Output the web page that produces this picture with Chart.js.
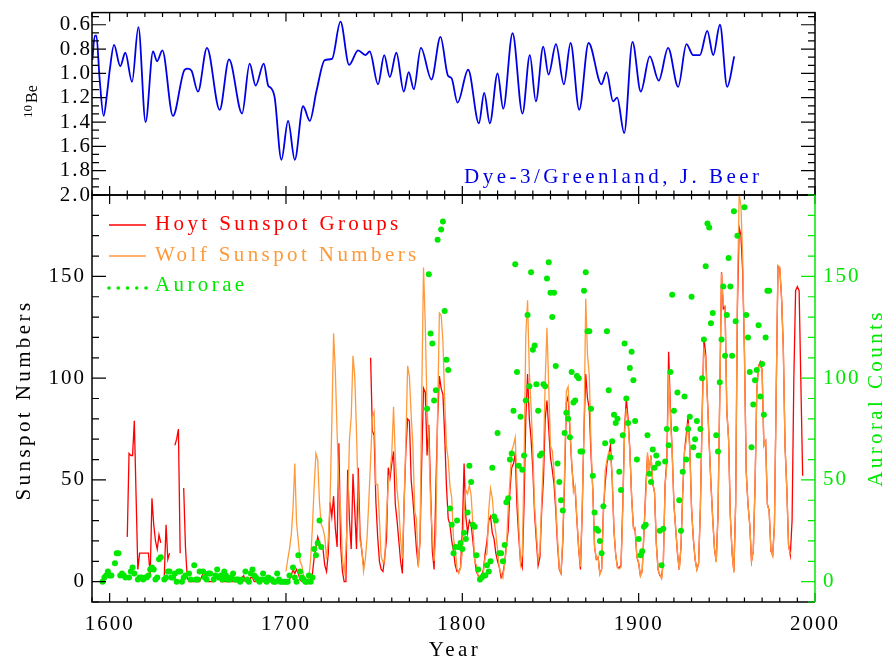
<!DOCTYPE html>
<html>
<head>
<meta charset="utf-8">
<script src="https://cdn.jsdelivr.net/npm/chart.js@4.4.1/dist/chart.umd.min.js"></script>
<style>
  html, body { margin: 0; padding: 0; background: #fff; }
  #wrap { position: relative; width: 884px; height: 662px; }
  canvas { position: absolute; left: 0; top: 0; }
</style>
</head>
<body>
<div id="wrap">
  <canvas id="beChart" width="884" height="662"></canvas>
  <canvas id="sunChart" width="884" height="662"></canvas>
</div>
<script>
// axis ticks
const yearTicks = [1600, 1700, 1800, 1900, 2000];
const beTicks = [0.6, 0.8, 1.0, 1.2, 1.4, 1.6, 1.8, 2.0];
const sunspotTicks = [0, 50, 100, 150];
const auroraTicks = [0, 50, 100, 150];

// 10Be, Dye-3 (year, value)
const beYears = [1590.2, 1591.6, 1592.5, 1594.3, 1596.6, 1598.5, 1600.0, 1602.5, 1606.0, 1608.9,
  1612.7, 1616.3, 1620.4, 1624.6, 1626.9, 1629.9, 1635.9, 1642.5, 1644.5, 1646.5,
  1650.1, 1655.2, 1662.4, 1667.7, 1675.1, 1679.4, 1682.8, 1687.4, 1689.9, 1691.5,
  1693.6, 1697.4, 1701.2, 1705.0, 1709.7, 1713.5, 1717.3, 1722.0, 1726.1, 1730.9,
  1735.8, 1740.9, 1745.0, 1747.5, 1752.2, 1755.7, 1758.9, 1762.6, 1766.8, 1769.6,
  1772.5, 1776.5, 1782.5, 1787.6, 1791.9, 1793.9, 1797.3, 1803.3, 1809.4, 1812.4,
  1815.6, 1820.0, 1823.2, 1828.5, 1834.1, 1838.3, 1841.7, 1845.9, 1848.9, 1853.1,
  1857.6, 1861.4, 1866.3, 1871.6, 1878.9, 1881.8, 1885.5, 1887.8, 1891.8, 1896.5,
  1901.2, 1906.3, 1911.4, 1916.7, 1922.4, 1927.1, 1930.9, 1934.7, 1938.9, 1942.3,
  1946.1, 1950.2, 1954.2];
const beValues = [0.89, 0.69, 0.69, 1.04, 1.35, 1.17, 0.98, 0.765, 0.94, 0.83,
  1.07, 0.62, 1.40, 0.82, 0.90, 0.81, 1.35, 0.97, 0.96, 0.98,
  1.15, 0.79, 1.30, 0.885, 1.33, 0.92, 1.10, 0.92, 1.10, 1.12,
  1.20, 1.71, 1.39, 1.71, 1.27, 1.39, 1.145, 0.89, 0.88, 0.575,
  0.93, 0.81, 0.85, 0.82, 1.09, 0.85, 1.03, 0.83, 1.15, 0.99,
  1.13, 0.79, 1.05, 0.70, 1.02, 1.04, 1.24, 0.97, 1.41, 1.16,
  1.41, 1.00, 1.29, 0.67, 1.33, 0.85, 1.23, 0.78, 1.01, 0.76,
  1.09, 0.75, 1.30, 0.75, 1.09, 0.99, 1.23, 1.20, 1.49, 0.74,
  1.15, 0.86, 1.06, 0.79, 1.11, 0.76, 0.85, 0.85, 0.65, 0.85,
  0.60, 1.11, 0.86];

// Hoyt group sunspot numbers, yearly from 1610 (null = no data)
const hoytStart = 1610;
const hoytValues = [
  22, 63, 62, 62, 79, 42, 6, 14, 14, 14,
  14, 14, 14, 3, 41, 28, 20, 16, 23, 19,
  null, 3, 28, 11, 14, null, null, 67, 70, 75,
  14, null, 46, 17, 2, 0, 0, 0, 0, 0,
  0, 0, 2, 4, 4, 1, 0, 0, 0, 0,
  2, 3, 3, 0, 0, 0, 0, 0, 0, 0,
  0, 0, 0, 0, 0, 2, 3, 0, 0, 0,
  2, 2, 0, 0, 0, 0, 0, 0, 0, 0,
  0, 0, 0, 0, 0, 0, 0, 0, 0, 0,
  0, 0, 1, 3, 6, 4, 6, 4, 1, 0,
  0, 0, 0, 0, 1, 4, 12, 17, 22, 19,
  17, 16, 8, 5, 14, 39, 32, 42, 26, 17,
  68, 18, 5, 0, 0, 55, 30, 16, 53, 35,
  16, 56, 23, 15, 8, null, null, null, 110, 74,
  72, 39, 22, 10, 6, 5, 12, 21, 56, 51,
  58, 64, 38, 30, 20, 10, 4, 39, 65, 80,
  79, 50, 40, 28, 16, 8, 20, 60, 95, 93,
  62, 77, 45, 15, 6, 46, 80, 101, 95, 92,
  72, 47, 31, 28, 20, 15, 8, 5, 5, 7,
  25, 58, 32, 24, 30, 28, 20, 11, 5, 3,
  1, 3, 6, 14, 20, 30, 32, 24, 21, 14,
  10, 7, 2, 4, 9, 18, 25, 45, 56, 58,
  63, 37, 22, 10, 7, 38, 80, 102, 80, 70,
  55, 33, 20, 8, 12, 35, 50, 80, 89, 75,
  61, 55, 48, 35, 18, 6, 4, 20, 50, 88,
  91, 75, 58, 47, 45, 30, 16, 6, 35, 75,
  102, 90, 85, 62, 45, 17, 11, 12, 4, 6,
  35, 48, 58, 62, 67, 50, 25, 13, 7, 7,
  8, 38, 75, 90, 80, 65, 42, 27, 25, 12,
  9, 3, 5, 24, 45, 62, 55, 62, 48, 44,
  19, 6, 3, 2, 10, 48, 60, 113, 85, 64,
  38, 26, 14, 6, 17, 44, 64, 72, 81, 66,
  36, 21, 11, 6, 9, 36, 82, 120, 112, 90,
  68, 48, 31, 16, 10, 33, 92, 152, 134, 135,
  84, 70, 32, 14, 5, 38, 135, 174, 170, 152,
  112, 54, 38, 28, 10, 15, 47, 94, 106, 108,
  104, 67, 69, 38, 35, 15, 13, 28, 93, 155,
  154, 140, 116, 67, 46, 18, 13, 30, 100, 143,
  145, 143, 97, 52];

// Wolf sunspot numbers, yearly from 1700
const wolfStart = 1700;
const wolfValues = [
  5, 11, 16, 23, 36, 58, 29, 20, 10, 8,
  3, 0, 0, 2, 11, 27, 47, 63, 60, 39,
  28, 26, 22, 11, 21, 40, 78, 122, 103, 73,
  47, 35, 11, 5, 16, 34, 70, 81, 111, 101,
  73, 40, 20, 16, 5, 11, 22, 40, 60, 80.9,
  83.4, 47.7, 47.8, 30.7, 12.2, 9.6, 10.2, 32.4, 47.6, 54,
  62.9, 85.9, 61.2, 45.1, 36.4, 20.9, 11.4, 37.8, 69.8, 106.1,
  100.8, 81.6, 66.5, 34.8, 30.6, 7, 19.8, 92.5, 154.4, 125.9,
  84.8, 68.1, 38.5, 22.8, 10.2, 24.1, 82.9, 132, 130.9, 118.1,
  89.9, 66.6, 60, 46.9, 41, 21.3, 16, 6.4, 4.1, 6.8,
  14.5, 34, 45, 43.1, 47.5, 42.2, 28.1, 10.1, 8.1, 2.5,
  0, 1.4, 5, 12.2, 13.9, 35.4, 45.8, 41.1, 30.1, 23.9,
  15.6, 6.6, 4, 1.8, 8.5, 16.6, 36.3, 49.6, 64.2, 67,
  70.9, 47.8, 27.5, 8.5, 13.2, 56.9, 121.5, 138.3, 103.2, 85.7,
  64.6, 36.7, 24.2, 10.7, 15, 40.1, 61.5, 98.5, 124.7, 96.3,
  66.6, 64.5, 54.1, 39, 20.6, 6.7, 4.3, 22.7, 54.8, 93.8,
  95.8, 77.2, 59.1, 44, 47, 30.5, 16.3, 7.3, 37.6, 74,
  139, 111.2, 101.6, 66.2, 44.7, 17, 11.3, 12.4, 3.4, 6,
  32.3, 54.3, 59.7, 63.7, 63.5, 52.2, 25.4, 13.1, 6.8, 6.3,
  7.1, 35.6, 73, 85.1, 78, 64, 41.8, 26.2, 26.7, 12.1,
  9.5, 2.7, 5, 24.4, 42, 63.5, 53.8, 62, 48.5, 43.9,
  18.6, 5.7, 3.6, 1.4, 9.6, 47.4, 57.1, 103.9, 80.6, 63.6,
  37.6, 26.1, 14.2, 5.8, 16.7, 44.3, 63.9, 69, 77.8, 64.9,
  35.7, 21.2, 11.1, 5.7, 8.7, 36.1, 79.7, 114.4, 109.6, 88.8,
  67.8, 47.5, 30.6, 16.3, 9.6, 33.2, 92.6, 151.6, 136.3, 134.7,
  83.9, 69.4, 31.5, 13.9, 4.4, 38, 141.7, 190.2, 184.8, 159,
  112.3, 53.9, 37.6, 27.9, 10.2, 15.1, 47, 93.8, 105.9, 105.5,
  104.5, 66.6, 68.9, 38, 34.5, 15.5, 12.6, 27.5, 92.5, 155.4,
  154.6, 140.4, 115.9, 66.6, 45.9, 17.9, 13.4];

// Auroral counts, yearly from 1590 (null = no point)
const auroraStart = 1590;
const auroraCounts = [
  null, null, null, null, null, null, 0, 2, 3, 5,
  3, 3, null, 9, 14, 14, 3, 4, 3, 2,
  null, 2, 5, 7, 4, null, 1, 2, 2, 1,
  2, 2, 3, 6, 7, 6, 1, 2, 11, 12,
  null, 1, 2, 5, 5, 2, 2, 4, 0, 5,
  5, 0, 2, 3, null, 4, 1, null, 8, 1,
  1, 5, null, 5, 2, 1, 4, 4, null, 1,
  3, 6, 2, 3, 1, 5, 3, 1, 1, 2,
  4, 1, 1, 1, 0, 1, null, 5, 1, 0,
  4, 6, 3, 2, 1, 0, 1, 4, 1, 0,
  2, 1, 1, 0, 0, 4, 1, 0, 0, 0,
  0, 0, 3, null, 7, 2, 0, 13, 5, 2,
  1, 0, 0, 3, 0, 2, 16, 13, 19, 30,
  17, null, null, null, null, null, null, null, null, null,
  null, null, null, null, null, null, null, null, null, null,
  null, null, null, null, null, null, null, null, null, null,
  null, null, null, null, null, null, null, null, null, null,
  null, null, null, null, null, null, null, null, null, null,
  null, null, null, null, null, null, null, null, null, null,
  85, 151, 122, 117, 89, 94, 168, null, 173, 177,
  133, 109, 104, 36, 28, 14, 17, 30, 17, 19,
  16, 24, 21, 34, 57, 49, 28, 27, 13, 6,
  1, 2, 3, 3, 8, 5, 10, 56, 32, 30,
  73, 14, 14, 10, 18, 39, 41, 60, 63, 84,
  156, 103, 57, 81, 55, 62, 89, 131, 96, 152,
  114, 116, 97, 84, 62, 63, 97, 96, 149, 157,
  142, 130, 142, 106, 58, 49, 40, 35, 73, 83,
  80, 71, 103, 88, 89, 101, 100, 64, 64, 143,
  152, 123, 123, 85, 52, 34, 26, 25, 20, 14,
  37, 68, 123, 94, 61, 69, 82, 78, 80, 54,
  45, 72, 117, 90, 78, 105, 113, 99, 79, 60,
  21, 13, 15, 27, 28, 72, 53, 49, 65, 56,
  62, 58, 25, 8, 26, 59, 75, 67, 103, 141,
  84, 75, 93, 40, 25, 54, 91, 60, 75, 81,
  140, 66, 70, 79, 62, 75, 100, 119, 155, 176,
  174, 127, 132, null, 72, 64, 98, 119, 145, 111,
  131, 159, 145, 111, 182, 128, 170, null, null, null,
  184, 131, 120, 103, 66, 87, 99, 104, 126, 91,
  107, 82, 120, 143, 143];

const BLUE = '#0000e6';
const RED = '#ff0000';
const ORANGE = '#ff9a3c';
const GREEN = '#00e800';
const SERIF = '"Liberation Serif", "Times New Roman", serif';

function yearly(start, values) {
  return values.map((v, i) => ({ x: start + i, y: v }));
}

// short tick marks pointing into the plot
function xTicks(ctx, scale, from, step, edgeY, len) {
  const n = Math.floor((scale.max - from) / step + 1e-6);
  for (let i = 0; i <= n; i++) {
    const p = scale.getPixelForValue(from + i * step);
    ctx.moveTo(p, edgeY);
    ctx.lineTo(p, edgeY + len);
  }
}
function yTicks(ctx, scale, from, step, edgeX, len) {
  const n = Math.floor((scale.max - from) / step + 1e-6);
  for (let i = 0; i <= n; i++) {
    const v = from + i * step;
    if (v < scale.min - 1e-6) continue;
    const p = scale.getPixelForValue(v);
    ctx.moveTo(edgeX, p);
    ctx.lineTo(edgeX + len, p);
  }
}

function drawText(ctx, t) {
  ctx.save();
  ctx.font = t.font || ('21px ' + SERIF);
  ctx.fillStyle = t.color || '#000';
  ctx.letterSpacing = t.spacing || '3.4px';
  ctx.textAlign = t.align || 'left';
  ctx.textBaseline = 'alphabetic';
  ctx.translate(t.x, t.y);
  if (t.rotate) ctx.rotate(t.rotate);
  ctx.fillText(t.text, 0, 0);
  ctx.restore();
}

const tickSpacing = {
  id: 'tickSpacing',
  beforeDraw(chart) { chart.ctx.letterSpacing = '2px'; }
};

function tickFont() {
  return { family: SERIF, size: 21 };
}

// ---------- top panel: 10Be ----------
const bePoints = beYears.map((y, i) => ({ x: y, y: beValues[i] }));

const beDecor = {
  id: 'beDecor',
  afterDatasetsDraw(chart) {
    const { ctx, chartArea: a, scales } = chart;
    ctx.save();
    ctx.letterSpacing = '0px';
    ctx.strokeStyle = '#000';
    ctx.lineWidth = 1.5;
    ctx.strokeRect(a.left, a.top, a.right - a.left, a.bottom - a.top);
    ctx.lineWidth = 1.2;
    ctx.beginPath();
    xTicks(ctx, scales.x, 1590, 10, a.top, 4.5);
    xTicks(ctx, scales.x, 1600, 100, a.top, 9);
    xTicks(ctx, scales.x, 1590, 10, a.bottom, -4.5);
    xTicks(ctx, scales.x, 1600, 100, a.bottom, -9);
    yTicks(ctx, scales.y, 0.6 - 0.2 / 3 * 2, 0.2 / 3, a.left, 7);
    yTicks(ctx, scales.y, 0.6, 0.2, a.left, 14);
    yTicks(ctx, scales.y, 0.6 - 0.2 / 3 * 2, 0.2 / 3, a.right, -7);
    yTicks(ctx, scales.y, 0.6, 0.2, a.right, -14);
    ctx.stroke();
    ctx.restore();
  },
  afterDraw(chart) {
    const ctx = chart.ctx;
    // rotated "10Be" label with superscript mass number
    ctx.save();
    ctx.letterSpacing = '0px';
    ctx.fillStyle = '#000';
    ctx.translate(37, 118);
    ctx.rotate(-Math.PI / 2);
    ctx.font = '13px ' + SERIF;
    ctx.fillText('10', 0, -5);
    ctx.font = '16px ' + SERIF;
    ctx.fillText('Be', 15, 0);
    ctx.restore();
    drawText(ctx, { text: 'Dye-3/Greenland, J. Beer', x: 464, y: 183, color: BLUE, spacing: '3.5px' });
  }
};

new Chart(document.getElementById('beChart'), {
  type: 'line',
  data: {
    datasets: [{
      data: bePoints,
      borderColor: BLUE,
      borderWidth: 1.8,
      pointRadius: 0,
      cubicInterpolationMode: 'monotone',
      fill: false
    }]
  },
  options: {
    responsive: false,
    animation: false,
    devicePixelRatio: 1,
    events: [],
    layout: { padding: { top: 9, bottom: 467, right: 69, left: 0 } },
    plugins: { legend: { display: false }, tooltip: { enabled: false } },
    scales: {
      x: { type: 'linear', min: 1590, max: 2000, display: false },
      y: {
        type: 'linear', min: 0.5, max: 2.0, reverse: true, position: 'left',
        afterBuildTicks: s => { s.ticks = beTicks.map(v => ({ value: v })); },
        afterFit: s => { s.width = 92; },
        grid: { display: false, drawTicks: false },
        border: { display: false },
        ticks: { font: tickFont(), color: '#000', padding: 0, autoSkip: false,
                 callback: v => Number(v).toFixed(1) }
      }
    }
  },
  plugins: [tickSpacing, beDecor]
});

// ---------- bottom panel: sunspots and aurorae ----------
const sunDecor = {
  id: 'sunDecor',
  afterDatasetsDraw(chart) {
    const { ctx, chartArea: a, scales } = chart;
    ctx.save();
    ctx.letterSpacing = '0px';
    ctx.lineWidth = 1.5;
    ctx.strokeStyle = '#000';
    ctx.beginPath();
    ctx.moveTo(a.right, a.bottom);
    ctx.lineTo(a.left, a.bottom);
    ctx.lineTo(a.left, a.top);
    ctx.lineTo(a.right, a.top);
    ctx.stroke();
    ctx.lineWidth = 1.2;
    ctx.beginPath();
    xTicks(ctx, scales.x, 1590, 10, a.bottom, -4.5);
    xTicks(ctx, scales.x, 1600, 100, a.bottom, -9);
    xTicks(ctx, scales.x, 1590, 10, a.top, 4.5);
    xTicks(ctx, scales.x, 1600, 100, a.top, 9);
    yTicks(ctx, scales.y, -10, 10, a.left, 7);
    yTicks(ctx, scales.y, 0, 50, a.left, 14);
    ctx.stroke();
    // green right axis
    ctx.strokeStyle = GREEN;
    ctx.lineWidth = 1.5;
    ctx.beginPath();
    ctx.moveTo(a.right, a.top);
    ctx.lineTo(a.right, a.bottom);
    ctx.stroke();
    ctx.lineWidth = 1.2;
    ctx.beginPath();
    yTicks(ctx, scales.y2, -10, 10, a.right, -7);
    yTicks(ctx, scales.y2, 0, 50, a.right, -14);
    ctx.stroke();
    ctx.restore();
  },
  afterDraw(chart) {
    const ctx = chart.ctx;
    // legend
    ctx.save();
    ctx.lineWidth = 1.3;
    ctx.strokeStyle = RED;
    ctx.beginPath(); ctx.moveTo(109, 225); ctx.lineTo(146, 225); ctx.stroke();
    ctx.strokeStyle = ORANGE;
    ctx.beginPath(); ctx.moveTo(109, 256); ctx.lineTo(146, 256); ctx.stroke();
    ctx.fillStyle = GREEN;
    for (let i = 0; i < 5; i++) {
      ctx.beginPath(); ctx.arc(109 + i * 9.25, 288, 1.8, 0, Math.PI * 2); ctx.fill();
    }
    ctx.restore();
    drawText(ctx, { text: 'Hoyt Sunspot Groups', x: 155, y: 230, color: RED });
    drawText(ctx, { text: 'Wolf Sunspot Numbers', x: 155, y: 261, color: ORANGE });
    drawText(ctx, { text: 'Aurorae', x: 155, y: 291, color: GREEN });
    // axis titles
    drawText(ctx, { text: 'Sunspot Numbers', x: 30, y: 400, rotate: -Math.PI / 2, align: 'center' });
    drawText(ctx, { text: 'Auroral Counts', x: 882, y: 398, rotate: -Math.PI / 2, align: 'center', color: GREEN });
    drawText(ctx, { text: 'Year', x: 455, y: 656, align: 'center' });
  }
};

new Chart(document.getElementById('sunChart'), {
  type: 'line',
  data: {
    datasets: [{
      label: 'Aurorae',
      data: yearly(auroraStart, auroraCounts),
      yAxisID: 'y2',
      showLine: false,
      pointRadius: 3,
      pointBorderWidth: 0,
      pointBackgroundColor: GREEN,
      pointBorderColor: GREEN
    }, {
      label: 'Wolf Sunspot Numbers',
      data: yearly(wolfStart, wolfValues),
      yAxisID: 'y',
      borderColor: ORANGE,
      borderWidth: 1.3,
      pointRadius: 0,
      tension: 0,
      spanGaps: false
    }, {
      label: 'Hoyt Sunspot Groups',
      data: yearly(hoytStart, hoytValues),
      yAxisID: 'y',
      borderColor: RED,
      borderWidth: 1.3,
      pointRadius: 0,
      tension: 0,
      spanGaps: false
    }]
  },
  options: {
    responsive: false,
    animation: false,
    devicePixelRatio: 1,
    events: [],
    layout: { padding: { top: 195, bottom: 0, left: 0, right: 0 } },
    plugins: { legend: { display: false }, tooltip: { enabled: false } },
    scales: {
      x: {
        type: 'linear', min: 1590, max: 2000, position: 'bottom',
        afterBuildTicks: s => { s.ticks = yearTicks.map(v => ({ value: v })); },
        afterFit: s => { s.height = 60; },
        grid: { display: false, drawTicks: false },
        border: { display: false },
        ticks: { font: tickFont(), color: '#000', padding: 10, maxRotation: 0, minRotation: 0,
                 autoSkip: false, callback: v => String(v) }
      },
      y: {
        type: 'linear', min: -10, max: 190, position: 'left',
        afterBuildTicks: s => { s.ticks = sunspotTicks.map(v => ({ value: v })); },
        afterFit: s => { s.width = 92; },
        grid: { display: false, drawTicks: false },
        border: { display: false },
        ticks: { font: tickFont(), color: '#000', padding: 6, autoSkip: false, callback: v => String(v) }
      },
      y2: {
        type: 'linear', min: -10, max: 190, position: 'right',
        afterBuildTicks: s => { s.ticks = auroraTicks.map(v => ({ value: v })); },
        afterFit: s => { s.width = 69; },
        grid: { display: false, drawTicks: false },
        border: { display: false },
        ticks: { font: tickFont(), color: GREEN, padding: 8, autoSkip: false, callback: v => String(v) }
      }
    }
  },
  plugins: [tickSpacing, sunDecor]
});
</script>
</body>
</html>
